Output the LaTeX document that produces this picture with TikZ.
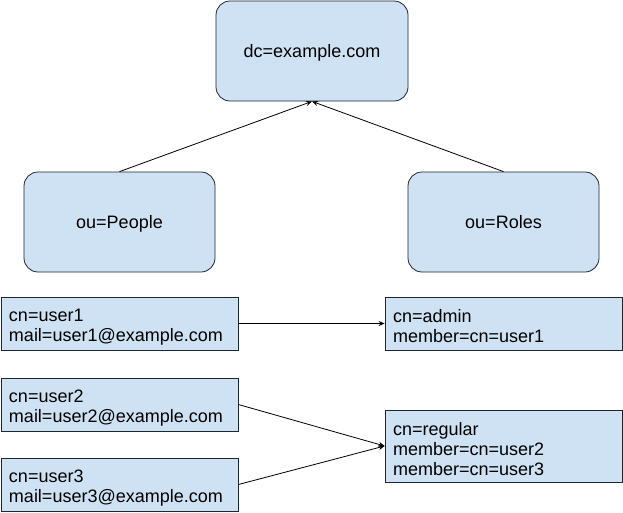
\documentclass[tikz,border=0pt]{standalone}
\usepackage{fontspec}
\setmainfont{Liberation Sans}
\usetikzlibrary{arrows.meta}
\definecolor{boxfill}{HTML}{CFE2F3}
\definecolor{boxline}{HTML}{1A2630}
\begin{document}
\begin{tikzpicture}[x=1pt,y=-1pt,
  rbox/.style={draw=boxline,fill=boxfill,rounded corners=14pt,line width=0.8pt,
    font=\fontsize{18}{20}\selectfont,inner sep=0pt,align=center,text depth=0pt},
  ebox/.style={draw=boxline,fill=boxfill,line width=0.8pt,
    font=\fontsize{18}{20}\selectfont,inner xsep=8pt,inner ysep=0pt,align=left,
    text width=221pt,minimum width=237pt,execute at begin node={\rule{0pt}{19pt}}},
  conn/.style={draw=black,line width=0.8pt,-{Stealth[length=6pt,width=5pt]}}]
\useasboundingbox (0,0) rectangle (623,512);
\node[rbox,minimum width=192pt,minimum height=100pt] (dc) at (312,51) {dc=example.com};
\node[rbox,minimum width=191pt,minimum height=100pt] (people) at (119.5,222) {ou=People};
\node[rbox,minimum width=191pt,minimum height=100pt] (roles) at (503.5,222) {ou=Roles};
\node[ebox,minimum height=53pt] (u1) at (119.5,323.5) {cn=user1\\mail=user1@example.com};
\node[ebox,minimum height=53pt] (admin) at (503.5,323.5) {cn=admin\\member=cn=user1};
\node[ebox,minimum height=53pt] (u2) at (119.5,404.5) {cn=user2\\mail=user2@example.com};
\node[ebox,minimum height=53pt] (u3) at (119.5,484.5) {cn=user3\\mail=user3@example.com};
\node[ebox,minimum height=72pt] (reg) at (503.5,446) {cn=regular\\member=cn=user2\\member=cn=user3};
\draw[conn] (people.north) -- (dc.south);
\draw[conn] (roles.north) -- (dc.south);
\draw[conn] (u1.east) -- (admin.west);
\draw[conn] (u2.east) -- (reg.west);
\draw[conn] (u3.east) -- (reg.west);
\end{tikzpicture}
\end{document}
